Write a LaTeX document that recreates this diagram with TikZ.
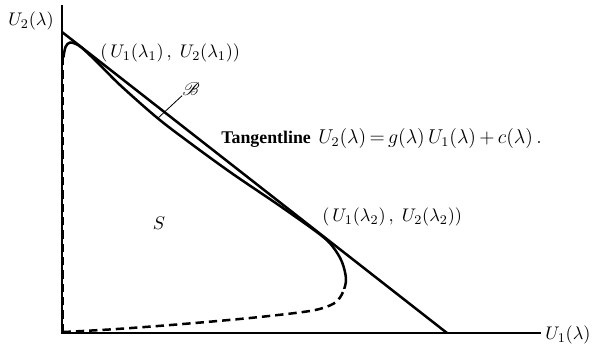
\documentclass[tikz,border=0pt]{standalone}
\usepackage{fontspec}
\usepackage{mathrsfs}
\newfontfamily\tlfont{Liberation Serif}
\begin{document}
\begin{tikzpicture}[x=0.6pt,y=-0.6pt,
  axis/.style={line width=1pt},
  curve/.style={line width=1.5pt, line join=round, line cap=round},
  dcurve/.style={line width=1.5pt, dash pattern=on 5pt off 3pt},
  lbl/.style={inner sep=0pt, font=\fontsize{10.95}{13}\selectfont}]
\useasboundingbox (0,0) rectangle (597,348);
% axes
\coordinate (O) at (62,333);
\coordinate (Ytop) at (62,5);
\coordinate (Xend) at (541,333);
\draw[axis] (Ytop) -- (O) -- (Xend);
% tangent line
\coordinate (T1) at (62,32);
\coordinate (T2) at (447,333);
\draw[curve] (T1) -- (T2);
% boundary curve B: solid above y=289, dashed below
\def\bcurve{plot[smooth, tension=0.55] coordinates {
 (63.5,57) (65.5,47) (70,42.5) (78,45) (86,51.5) (100,65) (120,85) (155,116)
 (182,137) (230,172) (280,206) (320,234.5) (333,247) (342,262) (346,279)
 (343,292) (336,302) (323,308) (303,312) (250,318) (183,324) (117,329) (64,332)}}
\begin{scope}
\clip (0,0) rectangle (597,289);
\draw[curve] \bcurve;
\end{scope}
\begin{scope}
\clip (0,289) rectangle (597,348);
\draw[dcurve] \bcurve;
\end{scope}
\draw[line width=0.8pt, dash pattern=on 5pt off 3pt] (63.5,332) -- (63.5,58);
% labels
\node[lbl, anchor=west] (xl) at (545,335) {$U_1(\lambda)$};
\node[lbl] (yl) at (31,21) {$U_2(\lambda)$};
\node[lbl, anchor=west] (p1) at (100,53) {$(\,U_1(\lambda_1)\,,\;U_2(\lambda_1))$};
\node[lbl, anchor=west] (p2) at (322,217) {$(\,U_1(\lambda_2)\,,\;U_2(\lambda_2))$};
\node[inner sep=0pt, anchor=west, font=\fontsize{10.7}{12}\selectfont\tlfont\bfseries] (tl) at (221,139) {Tangentline};
\node[inner sep=0pt, anchor=west, font=\fontsize{12}{14}\selectfont] (eq) at (318,139) {$U_2(\lambda)\,{=}\,g(\lambda)\,U_1(\lambda)\,{+}\,c(\lambda)\,.$};
\node[lbl] (S) at (159,223) {$S$};
\node[lbl] (B) at (191,89) {$\mathscr{B}$};
\coordinate (Bend) at (157,119);
\draw[line width=0.5pt] (B.south west) -- (Bend);
\end{tikzpicture}
\end{document}
